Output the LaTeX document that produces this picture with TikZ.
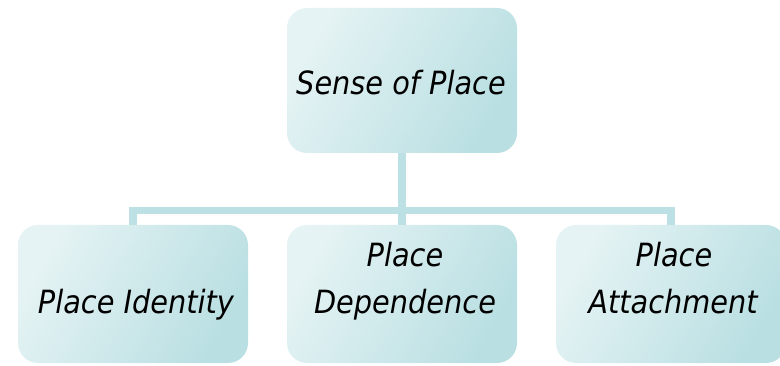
\documentclass[tikz,border=0pt]{standalone}
\usepackage{fontspec}
\newfontfamily\labfont{DejaVu Sans Condensed}
\definecolor{boxlight}{HTML}{E5F3F4}
\definecolor{boxdark}{HTML}{B9DFE2}
\definecolor{connc}{HTML}{BCE0E4}
\begin{document}
\begin{tikzpicture}[x=0.75pt,y=-0.75pt,
  box/.style={rounded corners=15pt, minimum width=172.5pt, inner sep=0pt,
    left color=boxlight, right color=boxdark, shading angle=60, draw=none},
  topbox/.style={box, minimum height=108.75pt},
  lowbox/.style={box, minimum height=103.5pt},
  lab/.style={font=\labfont\itshape\fontsize{24pt}{34.5pt}\selectfont, inner sep=0pt, anchor=base, text=black},
  conn/.style={draw=connc, line width=5.5pt, line join=miter}]
\useasboundingbox (0,0) rectangle (780,366);
\node[topbox] (top) at (402,80.5) {};
\node[lowbox] (left) at (133,294) {};
\node[lowbox] (mid) at (402,294) {};
\node[lowbox] (right) at (671,294) {};
\coordinate (j) at (402,210.5);
\draw[conn] (top.south) -- (j);
\draw[conn] (left.north) |- (j) -| (right.north);
\draw[conn] (j) -- (mid.north);
\node[lab] (ttop) at (401,95) {Sense of Place};
\node[lab] (tleft) at (136,313) {Place Identity};
\node[lab] (tmid1) at (405,267) {Place};
\node[lab] (tmid2) at (405,313) {Dependence};
\node[lab] (tright1) at (674,267) {Place};
\node[lab] (tright2) at (673,313) {Attachment};
\end{tikzpicture}
\end{document}
